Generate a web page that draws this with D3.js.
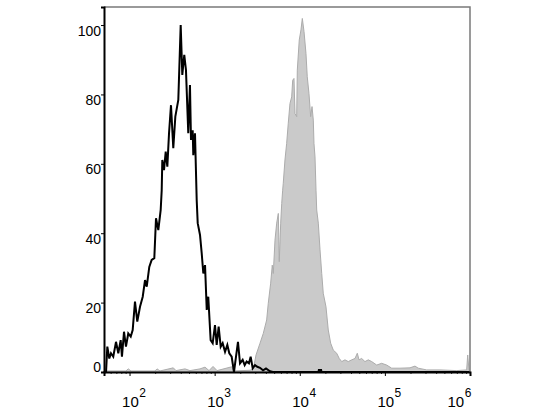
<!DOCTYPE html>
<html>
<head>
<meta charset="utf-8">
<script src="https://cdn.jsdelivr.net/npm/d3@7"></script>
<style>
  body { margin: 0; background: #fff; }
  text { font-family: "Liberation Sans", Arial, sans-serif; fill: #000; }
</style>
</head>
<body>
<svg id="wrapper"></svg>
<script>
// log10 of fluorescence intensity and % of max
let blackLog = [1.700,1.724,1.739,1.762,1.782,1.809,1.841,1.868,1.896,1.911,1.935,1.958,1.985,2.014,2.037,2.064,2.091,2.123,2.155,2.182,2.202,2.232,2.260,2.291,2.311,2.338,2.366,2.378,2.385,2.405,2.425,2.444,2.464,2.487,2.514,2.538,2.573,2.601,2.620,2.643,2.663,2.690,2.710,2.722,2.742,2.749,2.769,2.789,2.801,2.828,2.848,2.867,2.887,2.907,2.925,2.953,2.977,3.004,3.024,3.047,3.071,3.094,3.122,3.149,3.172,3.200,3.227,3.251,3.274,3.298,3.329,3.353,3.376,3.403,3.423,3.447,3.474,3.501,3.533,3.568,3.603,3.650,3.685,4.220,4.226,4.232,4.243,4.249,4.255,6.000];
let blackPct = [0,0,7.3,3.9,5.4,4.4,8.7,5.4,9.2,4.4,11.6,7.3,11.1,10.2,12.1,20.3,14.5,18.8,21.7,26.5,24.6,30.3,32.3,32.8,44.3,40.9,46.7,52.4,61.1,58.2,63.5,59.2,68.8,76.9,64.5,73.6,78.4,100,85.6,91.4,87,68.8,82.7,66.9,69.7,62.5,68.8,49.6,42.9,39.5,34.2,28.4,30.8,17.9,21.7,9.2,8.3,13.5,7.8,13.1,7.3,8.3,5.8,7.8,5.4,4.4,0,4.4,8.7,2.5,3.5,2,3,2.5,4.4,1.1,2,1.5,1.2,0.5,1.0,0.2,0,0,0.8,0,0,0.8,0,0];

let greyLog = [1.700,1.958,1.985,2.017,2.299,2.323,2.358,2.514,2.546,2.652,2.710,2.828,2.887,2.934,2.981,3.028,3.200,3.227,3.415,3.454,3.486,3.533,3.571,3.611,3.630,3.658,3.677,3.689,3.709,3.729,3.748,3.759,3.776,3.788,3.799,3.806,3.826,3.846,3.865,3.885,3.905,3.917,3.932,3.944,3.964,3.971,3.994,4.014,4.030,4.050,4.073,4.088,4.108,4.128,4.144,4.159,4.167,4.179,4.191,4.199,4.218,4.238,4.258,4.276,4.308,4.335,4.363,4.394,4.434,4.464,4.493,4.531,4.570,4.610,4.649,4.676,4.696,4.727,4.766,4.805,4.845,4.904,4.962,5.021,5.080,5.177,5.295,5.354,5.392,5.491,5.647,5.843,5.961,5.973,5.988,6.000];
let greyPct = [0.3,0.3,0.9,0.3,0.3,0.9,0.3,1.2,0.4,0.9,0.4,0.9,1.4,0.4,1.6,0.4,1.5,0.3,0.5,0.8,4.9,8.3,11.1,15,19.8,25.6,30.8,28.4,38,42.9,45.7,31.8,42.9,48.6,52.4,54.4,61.1,65.9,71.7,77.4,79.3,84.1,84.6,74.5,73.6,87,95.7,98.6,101.9,98.1,91.8,85.1,80.3,73.6,76.5,72.6,65.9,62,52.4,46.7,42.9,35.2,28.4,22.7,18.8,12.1,8.3,6.3,5.4,3.9,3,3.5,3,3.5,3.9,5.4,3.5,3.9,3,3.5,3,2,2.5,2,1.1,1.1,1.2,1.7,1.1,0.6,0.6,0.4,0.6,4.9,0.6,0];

let yTicks = [0,20,40,60,80,100];
let xExps = [2,3,4,5,6];

let width = 550, height = 412;
let mLeft = 104, mRight = 470, mTop = 7, mBottom = 372;

let toData = function(logs, pcts) {
  return logs.map(function(l,i){ return {x: Math.pow(10,l), y: pcts[i]}; });
};
let blackData = toData(blackLog, blackPct);
let greyData = toData(greyLog, greyPct);

let svg = d3.select('#wrapper')
  .attr('width', width)
  .attr('height', height);

let xScale = d3.scaleLog()
  .domain([Math.pow(10,1.7), 1e6])
  .range([mLeft, mRight]);

let yScale = d3.scaleLinear()
  .domain([0, 105.2])
  .range([mBottom, mTop]);

// filled grey histogram
let area = d3.area()
  .x(function(d){ return xScale(d.x); })
  .y0(yScale(0))
  .y1(function(d){ return yScale(d.y); });

svg.append('path')
  .datum(greyData)
  .attr('d', area)
  .attr('fill', '#cacaca')
  .attr('stroke', '#acacac')
  .attr('stroke-width', 1);

// black open histogram
let line = d3.line()
  .x(function(d){ return xScale(d.x); })
  .y(function(d){ return yScale(d.y); });

svg.append('path')
  .datum(blackData)
  .attr('d', line)
  .attr('fill', 'none')
  .attr('stroke', '#000')
  .attr('stroke-width', 2);

// frame: grey top and right
svg.append('path')
  .attr('d', 'M' + mLeft + ',' + mTop + 'H' + mRight + 'V' + mBottom)
  .attr('fill', 'none')
  .attr('stroke', '#7a7a7a')
  .attr('stroke-width', 1.5);

// y axis
let yAxis = d3.axisLeft(yScale)
  .tickValues(yTicks)
  .tickSize(3)
  .tickFormat(d3.format('d'));

let gy = svg.append('g')
  .attr('transform', 'translate(' + mLeft + ',0)')
  .call(yAxis);
gy.select('.domain').attr('stroke', '#000').attr('stroke-width', 2);
gy.selectAll('.tick line').attr('stroke', '#000');
gy.selectAll('.tick text')
  .attr('x', -3)
  .attr('y', 0)
  .attr('dy', function(d){ return d === 0 ? '-0.05em' : '0.72em'; })
  .style('font-size', '14px')
  .style('font-family', '"Liberation Sans", Arial, sans-serif');

// x axis with minor log ticks
let minor = [];
[1].concat(xExps).forEach(function(e){
  for (let k=2;k<=9;k++) {
    let v = k * Math.pow(10,e);
    if (v > xScale.domain()[0] && v < 1e6) minor.push(v);
  }
});

let xMinor = d3.axisBottom(xScale).tickValues(minor).tickSize(2).tickFormat('');
let gxm = svg.append('g')
  .attr('transform', 'translate(0,' + mBottom + ')')
  .call(xMinor);
gxm.select('.domain').remove();
gxm.selectAll('.tick line').attr('stroke', '#333');

let xAxis = d3.axisBottom(xScale)
  .tickValues(xExps.map(function(e){ return Math.pow(10,e); }))
  .tickSize(4)
  .tickFormat('');

let gx = svg.append('g')
  .attr('transform', 'translate(0,' + mBottom + ')')
  .call(xAxis);
gx.select('.domain').attr('stroke', '#000').attr('stroke-width', 2);
gx.selectAll('.tick line').attr('stroke', '#000');

gx.selectAll('.tick').each(function(d,i){
  let e = xExps[i];
  let shift = (e === 6) ? -15 : 0;
  let t = d3.select(this).append('text')
    .attr('x', shift - 8)
    .attr('y', 35)
    .attr('text-anchor', 'start');
  t.append('tspan')
    .style('font-size', '15px')
    .text('10');
  t.append('tspan')
    .attr('dx', 0.5)
    .attr('dy', -10)
    .style('font-size', '12px')
    .text(e);
});
</script>
</body>
</html>
